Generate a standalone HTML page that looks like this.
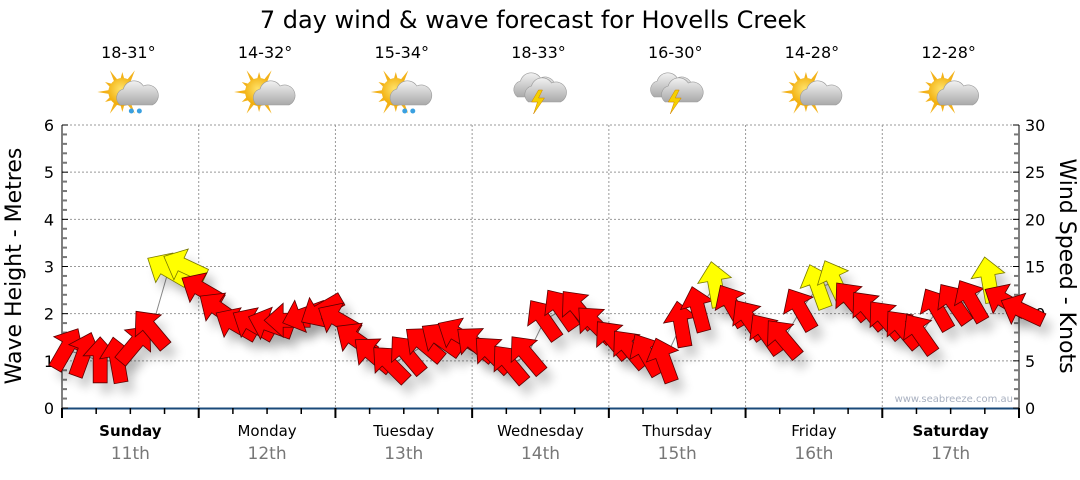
<!DOCTYPE html>
<html><head><meta charset="utf-8">
<style>
html,body{margin:0;padding:0;background:#fff;}
body{width:1080px;height:475px;overflow:hidden;font-family:"Liberation Sans","DejaVu Sans",sans-serif;}
svg text{font-family:"DejaVu Sans","Liberation Sans",sans-serif;}
</style></head>
<body>
<svg id="chart" width="1080" height="475" viewBox="0 0 1080 475" xmlns="http://www.w3.org/2000/svg">
<defs>
<filter id="sh" x="-50%" y="-50%" width="200%" height="200%"><feGaussianBlur stdDeviation="5"/></filter>
<radialGradient id="sun" cx="0.45" cy="0.4" r="0.6"><stop offset="0" stop-color="#ffe36b"/><stop offset="1" stop-color="#f0a800"/></radialGradient>
<linearGradient id="cloud" x1="0" y1="0" x2="0" y2="1"><stop offset="0" stop-color="#f2f2f2"/><stop offset="1" stop-color="#a9a9a9"/></linearGradient>
</defs>
<text x="533" y="28" font-size="24" text-anchor="middle" fill="#000">7 day wind &amp; wave forecast for Hovells Creek</text>
<g id="grid"></g>
<g id="axes"></g>
<g id="icons"></g>
<text x="1013" y="402" font-size="10" text-anchor="end" fill="#a8b0c0">www.seabreeze.com.au</text>
<text transform="translate(21,266) rotate(-90)" font-size="22" text-anchor="middle" fill="#000">Wave Height - Metres</text>
<text transform="translate(1060,266) rotate(90)" font-size="22" text-anchor="middle" fill="#000">Wind Speed - Knots</text>
<g id="line"></g>
<g id="shadows"></g>
<g id="arrows"></g>
</svg>
<script>
const days = ["Sunday","Monday","Tuesday","Wednesday","Thursday","Friday","Saturday"];
const dates = ["11th","12th","13th","14th","15th","16th","17th"];
const boldDays = [true,false,false,false,false,false,true];
const temps = ["18-31°","14-32°","15-34°","18-33°","16-30°","14-28°","12-28°"];
const icons = ["rain","sun","rain","storm","storm","sun","sun"];
const waveTicks = [0,1,2,3,4,5,6];
const windTicks = [0,5,10,15,20,25,30];
// wind speed (knots) every 3 hours
const windSpeed = [6.2,5.6,5.0,5.0,6.7,8.3,14.6,15.0,
 12.5,10.4,8.8,8.8,8.8,9.3,9.9,10.4,
 9.3,7.2,5.6,4.6,5.6,6.7,7.2,7.7,
 6.7,5.6,4.6,5.6,9.3,10.4,10.4,8.8,
 7.2,6.2,5.6,5.0,8.8,10.4,13.0,10.8,
 9.3,7.8,7.3,10.4,12.8,13.3,11.3,10.3,
 9.3,8.3,7.8,10.4,11.0,11.3,13.5,11.3,10.3];
// arrow pointing direction on screen, degrees clockwise from up
const windDir = [30,20,0,-10,40,-40,-60,-65,
 -60,-55,-60,-60,-70,-90,-110,-120,
 -60,-55,-50,-45,-40,-50,-55,-60,
 -50,-45,-40,-40,-35,-35,-40,-45,
 -40,-40,-30,-20,-10,-15,-10,-30,
 -35,-35,-40,-30,-20,-25,-40,-40,
 -40,-40,-35,-30,-35,-30,-10,-60,-65];

const X0=62, X1=1019, Y0=408, Y1=125;
const dayW=(X1-X0)/7;
const xT = i => X0 + i*(dayW/8) + 4;
const yW = v => Y0 - v*(Y0-Y1)/30;
const yM = v => Y0 - v*(Y0-Y1)/6;
const NS="http://www.w3.org/2000/svg";
function mk(tag,attrs,parent){const e=document.createElementNS(NS,tag);for(const k in attrs)e.setAttribute(k,attrs[k]);parent.appendChild(e);return e;}

const grid=document.getElementById('grid');
waveTicks.forEach(v=>{ if(v>0){ const l=mk('line',{x1:X0,x2:X1,y1:yM(v),y2:yM(v),stroke:'#999','stroke-dasharray':'2,2','stroke-width':1},grid);

}});
for(let d=1;d<7;d++){const l=mk('line',{x1:X0+d*dayW,x2:X0+d*dayW,y1:Y1,y2:Y0,stroke:'#999','stroke-dasharray':'2,2'},grid);

}

const ax=document.getElementById('axes');
mk('line',{x1:X0,x2:X0,y1:Y1,y2:Y0,stroke:'#000'},ax);
mk('line',{x1:X1,x2:X1,y1:Y1,y2:Y0,stroke:'#000'},ax);
const xa=mk('line',{x1:X0,x2:X1,y1:Y0+0.5,y2:Y0+0.5,stroke:'#1a4a7a','stroke-width':2},ax);


for(let i=0;i<=30;i++){const y=Y0-i*(Y0-Y1)/30;
 mk('line',{x1:X0,x2:X0+(i%5==0?6:5),y1:y,y2:y,stroke:i%5==0?'#000':'#777','stroke-width':i%5==0?1:2},ax);
 mk('line',{x1:X1-(i%5==0?6:5),x2:X1,y1:y,y2:y,stroke:i%5==0?'#000':'#777','stroke-width':i%5==0?1:2},ax);}
waveTicks.forEach(v=>{const t=mk('text',{x:X0-8,y:yM(v)+6,'font-size':16,'text-anchor':'end',fill:'#000'},ax);t.textContent=v;

});
windTicks.forEach(v=>{const t=mk('text',{x:X1+6,y:yW(v)+6,'font-size':16,fill:'#000'},ax);t.textContent=v;

});
for(let q=0;q<=28;q++){const x=X0+q*dayW/4;mk('line',{x1:x,x2:x,y1:Y0,y2:Y0+(q%4==0?10:6),stroke:'#000','stroke-width':q%4==0?2:1.5},ax);}
days.forEach((d,i)=>{const cx=X0+(i+0.5)*dayW;
 const t=mk('text',{x:cx,y:436,'font-size':15,'text-anchor':'middle',fill:'#000','font-weight':boldDays[i]?'bold':'normal'},ax);t.textContent=d;
 
 
 const t2=mk('text',{x:cx,y:459,'font-size':17,'text-anchor':'middle',fill:'#777'},ax);t2.textContent=dates[i];
 
 
 const t3=mk('text',{x:cx-2,y:58,'font-size':16,'text-anchor':'middle',fill:'#000'},ax);t3.textContent=temps[i];
 
 
});

const ic=document.getElementById('icons');
function sun(g,cx,cy){for(let a=0;a<360;a+=30){const r=a*Math.PI/180;mk('polygon',{points:`${cx+Math.cos(r-0.15)*13},${cy+Math.sin(r-0.15)*13} ${cx+Math.cos(r)*(a%60?20:25)},${cy+Math.sin(r)*(a%60?20:25)} ${cx+Math.cos(r+0.15)*13},${cy+Math.sin(r+0.15)*13}`,fill:'#f3b21a'},g);}
 mk('circle',{cx,cy,r:14,fill:'url(#sun)'},g);}
function cloud(g,cx,cy,s){mk('path',{d:`M${cx-14*s},${cy+9*s} a9 9 0 0 1 3,-16 a11 11 0 0 1 20,-3 a9 9 0 0 1 9,19 z`,fill:'url(#cloud)',stroke:'#999','stroke-width':0.6},g);}
function bolt(g,cx,cy){mk('polygon',{points:`${cx},${cy-8} ${cx-7},${cy+4} ${cx-1},${cy+4} ${cx-5},${cy+16} ${cx+6},${cy} ${cx},${cy} ${cx+4},${cy-8}`,fill:'#f5d000',stroke:'#d08000','stroke-width':0.5},g);}
icons.forEach((k,i)=>{const cx=X0+(i+0.5)*dayW-2, cy=96;
 const g=mk('g',{},ic);
 
 
 if(k==='storm'){cloud(g,cx-7,cy-8,1);cloud(g,cx+4,cy-3,1);bolt(g,cx,cy+2);}
 else{sun(g,cx-6,cy-4);cloud(g,cx+6,cy,1);
  if(k==='rain'){mk('circle',{cx:cx+3,cy:cy+15,r:2.5,fill:'#3aa0e0'},g);mk('circle',{cx:cx+11,cy:cy+15,r:2.5,fill:'#3aa0e0'},g);}}
});

// connecting line
const pts=windSpeed.map((v,i)=>`${xT(i)},${yW(v)}`).join(' ');
const pl=mk('polyline',{points:pts,fill:'none',stroke:'#888','stroke-width':1},document.getElementById('line'));



const AR="M0,-24 L17,-5 L7,-5 L7,22 L-7,22 L-7,-5 L-17,-5 Z";
const sh=document.getElementById('shadows'), ar=document.getElementById('arrows');
windSpeed.forEach((v,i)=>{
 const x=xT(i), y=yW(v), d=windDir[i];
 const s=mk('path',{d:AR,fill:'#000',opacity:0.2,filter:'url(#sh)',transform:`translate(${x+7},${y+10}) rotate(${d})`},sh);
 
 
 const a=mk('path',{d:AR,fill:v>=12.8?'#ffff00':'#ff0000',stroke:v>=12.8?'#7a7a00':'#5a0000','stroke-width':0.8,'stroke-linejoin':'miter',transform:`translate(${x},${y}) rotate(${d})`},ar);
 
 
});
</script>
</body></html>
